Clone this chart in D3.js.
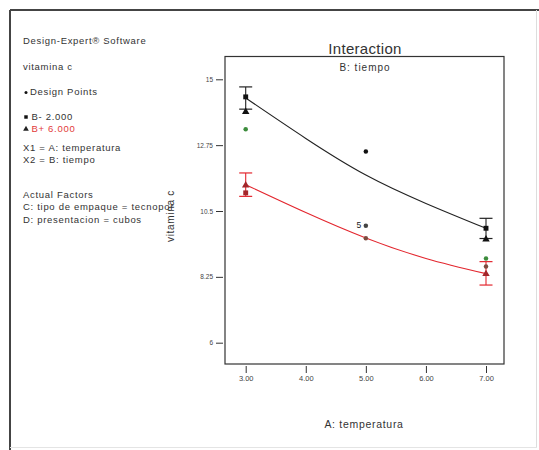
<!DOCTYPE html>
<html>
<head>
<meta charset="utf-8">
<script src="https://cdn.jsdelivr.net/npm/d3@7"></script>
<style>
  html, body { margin: 0; padding: 0; background: #fff; }
  svg { display: block; font-family: "Liberation Sans", Arial, sans-serif; }
</style>
</head>
<body>
<svg id="chart" width="539" height="450"></svg>
<script>
// Factor A levels (temperatura) and tick labels
const xTicks = [3, 4, 5, 6, 7];
const xTickLabels = ["3.00", "4.00", "5.00", "6.00", "7.00"];
const yTicks = [6, 8.25, 10.5, 12.75, 15];
const yTickLabels = ["6", "8.25", "10.5", "12.75", "15"];

// Predicted response curves, read at each temperature level
const curveX = [3, 4, 5, 6, 7];
const curveLow = [14.36, 12.98, 11.73, 10.76, 9.91];   // B- 2.000
const curveHigh = [11.40, 10.45, 9.58, 8.88, 8.36];    // B+ 6.000

// LSD bars at the design extremes
const barX = [3, 7];
const lowBarLo = [13.98, 9.56];
const lowBarHi = [14.74, 10.25];
const highBarLo = [11.00, 7.97];
const highBarHi = [11.80, 8.77];

// Design points
const pointX = [3, 3, 3, 3, 3, 5, 5, 5, 7, 7, 7, 7, 7];
const pointY = [14.40, 13.89, 13.29, 11.38, 11.12, 12.53, 10.00, 9.57, 9.91, 9.53, 8.88, 8.60, 8.35];
const pointShape = ["square", "triangle", "circle", "triangle", "square", "circle", "circle", "circle",
                    "square", "triangle", "circle", "circle", "triangle"];
const pointGroup = ["black", "black", "green", "red", "red", "black", "gray", "brown",
                    "black", "black", "green", "brown", "red"];
const pointCount = ["", "", "", "", "", "", "5", "", "", "", "", "", ""];

const legendLines = [
  "Design-Expert\u00AE Software",
  "vitamina c",
  "Design Points",
  "B- 2.000",
  "B+ 6.000",
  "X1 = A: temperatura",
  "X2 = B: tiempo",
  "Actual Factors",
  "C: tipo de empaque = tecnopor",
  "D: presentacion = cubos"
];

const colors = { black: "#111", green: "#3c8c3c", red: "#a3262a", brown: "#7d4a3e", gray: "#444" };
const lineRed = "#e3262e";

const svg = d3.select("#chart");

// outer panel border
svg.append("line").attr("x1", 10).attr("y1", 10).attr("x2", 539).attr("y2", 10)
  .attr("stroke", "#444").attr("stroke-width", 2);
svg.append("line").attr("x1", 10).attr("y1", 10).attr("x2", 10).attr("y2", 450)
  .attr("stroke", "#444").attr("stroke-width", 2);
svg.append("line").attr("x1", 536.5).attr("y1", 10).attr("x2", 536.5).attr("y2", 448)
  .attr("stroke", "#ddd").attr("stroke-width", 1);
svg.append("line").attr("x1", 10).attr("y1", 447.5).attr("x2", 537).attr("y2", 447.5)
  .attr("stroke", "#e4e4e4").attr("stroke-width", 1);

// plot area
const frame = { left: 225, right: 504, top: 56.5, bottom: 364 };
const x = d3.scaleLinear().domain([3, 7]).range([245.7, 486]);
const y = d3.scaleLinear().domain([6, 15]).range([342.7, 79.3]);

svg.append("rect")
  .attr("x", frame.left).attr("y", frame.top)
  .attr("width", frame.right - frame.left).attr("height", frame.bottom - frame.top)
  .attr("fill", "none").attr("stroke", "#333").attr("stroke-width", 1.2);

// y axis ticks, offset left of the frame
const yAxis = d3.axisLeft(y).tickValues(yTicks).tickSize(7).tickPadding(3)
  .tickFormat((d, i) => yTickLabels[i]);
const gy = svg.append("g").attr("transform", `translate(${frame.left - 2},0)`).call(yAxis);
gy.select(".domain").remove();
gy.selectAll("line").attr("stroke", "#333");
gy.selectAll("text").attr("font-size", 6.5).attr("fill", "#444").attr("font-family", "Liberation Sans, Arial");

// x axis ticks, below the frame
const xAxis = d3.axisBottom(x).tickValues(xTicks).tickSize(7).tickPadding(3)
  .tickFormat((d, i) => xTickLabels[i]);
const gx = svg.append("g").attr("transform", `translate(0,${frame.bottom + 2})`).call(xAxis);
gx.select(".domain").remove();
gx.selectAll("line").attr("stroke", "#333");
gx.selectAll("text").attr("font-size", 7.5).attr("fill", "#444").attr("font-family", "Liberation Sans, Arial");

// titles
svg.append("text").attr("x", 365).attr("y", 53.5).attr("text-anchor", "middle")
  .attr("font-size", 15).attr("letter-spacing", 0.3).attr("fill", "#333").text("Interaction");
svg.append("text").attr("x", 365).attr("y", 70.5).attr("text-anchor", "middle")
  .attr("font-size", 10).attr("letter-spacing", 1).attr("fill", "#333").text("B: tiempo");
svg.append("text").attr("x", 364).attr("y", 428).attr("text-anchor", "middle")
  .attr("font-size", 10.5).attr("letter-spacing", 0.7).attr("fill", "#333").text("A: temperatura");
svg.append("text").attr("transform", "translate(174,216) rotate(-90)").attr("text-anchor", "middle")
  .attr("font-size", 10).attr("letter-spacing", 0.7).attr("fill", "#333").text("vitamina c");

// left-hand annotation panel
const legendY = [44, 70, 95, 120, 131.5, 151, 163, 197.5, 209.5, 222.5];
const legendX = [23, 23, 30, 31.5, 31.5, 23, 23, 23, 23, 23];
legendLines.forEach((t, i) => {
  svg.append("text").attr("x", legendX[i]).attr("y", legendY[i])
    .attr("font-size", 9.5).attr("letter-spacing", 0.7)
    .attr("fill", i === 4 ? "#e23a3a" : "#333").text(t);
});
svg.append("circle").attr("cx", 26).attr("cy", legendY[2] - 2.5).attr("r", 1.5).attr("fill", "#111");
svg.append("path").attr("d", d3.symbol(d3.symbolSquare, 12)())
  .attr("transform", `translate(26,${legendY[3] - 3})`).attr("fill", "#111");
svg.append("path").attr("d", d3.symbol(d3.symbolTriangle, 14)())
  .attr("transform", `translate(26,${legendY[4] - 2.5})`).attr("fill", "#222");

// prediction curves
const line = d3.line().curve(d3.curveNatural).x(d => x(d[0])).y(d => y(d[1]));
svg.append("path").datum(curveX.map((v, i) => [v, curveLow[i]]))
  .attr("d", line).attr("fill", "none").attr("stroke", "#222").attr("stroke-width", 1.1);
svg.append("path").datum(curveX.map((v, i) => [v, curveHigh[i]]))
  .attr("d", line).attr("fill", "none").attr("stroke", lineRed).attr("stroke-width", 1.1);

// LSD bars
function bars(lo, hi, color) {
  barX.forEach((bx, i) => {
    const cx = x(bx);
    svg.append("line").attr("x1", cx).attr("x2", cx).attr("y1", y(lo[i])).attr("y2", y(hi[i]))
      .attr("stroke", color).attr("stroke-width", 1.1);
    [lo[i], hi[i]].forEach(v => {
      svg.append("line").attr("x1", cx - 6.5).attr("x2", cx + 6.5).attr("y1", y(v)).attr("y2", y(v))
        .attr("stroke", color).attr("stroke-width", 1.2);
    });
  });
}
bars(lowBarLo, lowBarHi, "#222");
bars(highBarLo, highBarHi, lineRed);

// design points
const symbolTypes = { square: d3.symbolSquare, triangle: d3.symbolTriangle, circle: d3.symbolCircle };
const symbolSizes = { square: 24, triangle: 24, circle: 16 };
pointX.forEach((px, i) => {
  const s = pointShape[i];
  svg.append("path").attr("d", d3.symbol(symbolTypes[s], symbolSizes[s])())
    .attr("transform", `translate(${x(px)},${y(pointY[i])})`)
    .attr("fill", colors[pointGroup[i]]);
  if (pointCount[i]) {
    svg.append("text").attr("x", x(px) - 4.5).attr("y", y(pointY[i]) + 2)
      .attr("text-anchor", "end").attr("font-size", 8.5).attr("fill", "#222").text(pointCount[i]);
  }
});
</script>
</body>
</html>
